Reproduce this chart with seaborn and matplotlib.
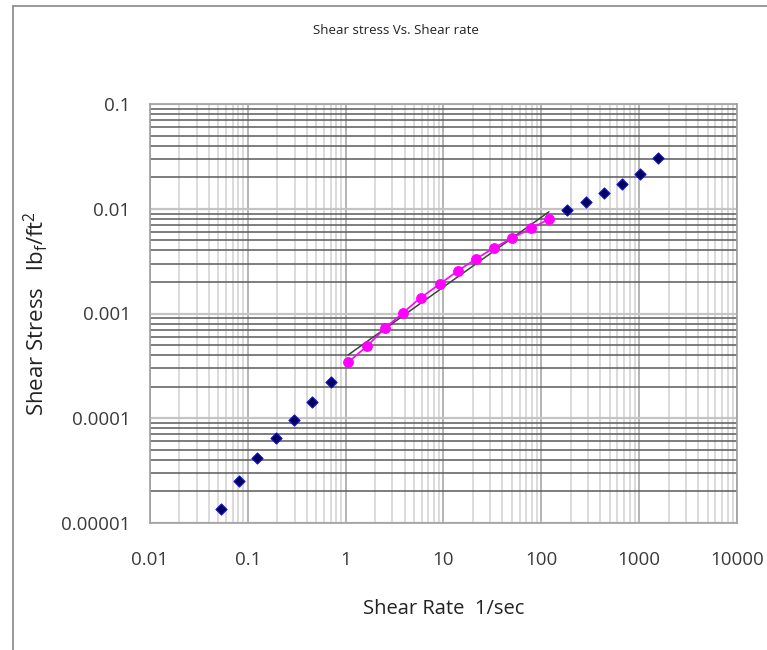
import numpy as np
import pandas as pd
import matplotlib
matplotlib.use("Agg")
import matplotlib.pyplot as plt
from matplotlib.ticker import LogLocator, FixedLocator, FixedFormatter, NullFormatter
from matplotlib.lines import Line2D
import seaborn as sns

# ---- data ----
blue_low_rate = [0.0528, 0.0813, 0.125, 0.193, 0.297, 0.457, 0.704]
blue_low_stress = [1.37e-5, 2.49e-5, 4.17e-5, 6.5e-5, 9.7e-5, 1.44e-4, 2.2e-4]
blue_high_rate = [184.5, 284, 437, 673, 1028, 1567]
blue_high_stress = [9.7e-3, 0.0116, 0.0141, 0.0172, 0.0216, 0.0303]

fit_rate = [1.06, 1.64, 2.52, 3.82, 5.88, 9.14, 13.96, 21.5, 32.8, 50.5, 78.5, 119.7]
fit_stress = [3.42e-4, 4.86e-4, 7.23e-4, 1.01e-3, 1.42e-3, 1.91e-3, 2.55e-3,
              3.32e-3, 4.23e-3, 5.27e-3, 6.49e-3, 7.96e-3]

trend_rate = [1.06, 119.7]
trend_stress = [4.02e-4, 9.35e-3]

x_ticks = [0.01, 0.1, 1, 10, 100, 1000, 10000]
x_tick_labels = ["0.01", "0.1", "1", "10", "100", "1000", "10000"]
y_ticks = [0.00001, 0.0001, 0.001, 0.01, 0.1]
y_tick_labels = ["0.00001", "0.0001", "0.001", "0.01", "0.1"]

title = "Shear stress Vs. Shear rate"
x_label = "Shear Rate  1/sec"
y_label = r"Shear Stress   lb$_\mathregular{f}$/ft$^\mathregular{2}$"

blue_df = pd.DataFrame({"rate": blue_low_rate + blue_high_rate,
                        "stress": blue_low_stress + blue_high_stress})
fit_df = pd.DataFrame({"rate": fit_rate, "stress": fit_stress})
trend_df = pd.DataFrame({"rate": trend_rate, "stress": trend_stress})

sns.set_theme(style="white")
plt.rcParams["font.family"] = ["Open Sans", "DejaVu Sans"]
plt.rcParams["mathtext.fontset"] = "custom"
plt.rcParams["mathtext.rm"] = "Open Sans"

fig = plt.figure(figsize=(7.67, 6.5), dpi=100)
ax = fig.add_axes([150 / 767, 127 / 650, 587 / 767, 419 / 650])
ax.set_xscale("log")
ax.set_yscale("log")
ax.set_xlim(0.01, 10000)
ax.set_ylim(0.00001, 0.1)

# grid
ax.xaxis.set_minor_locator(LogLocator(base=10, subs=np.arange(2, 10), numticks=20))
ax.yaxis.set_minor_locator(LogLocator(base=10, subs=np.arange(2, 10), numticks=20))
ax.xaxis.set_minor_formatter(NullFormatter())
ax.yaxis.set_minor_formatter(NullFormatter())
ax.grid(True, which="major", axis="x", color="#a8a8a8", linewidth=1.2)
ax.grid(True, which="minor", axis="x", color="#d4d4d4", linewidth=1.2)
ax.grid(True, which="major", axis="y", color="#c4c4c4", linewidth=1.6)
ax.grid(True, which="minor", axis="y", color="#5a5a5a", linewidth=1.1)
ax.set_axisbelow(True)

sns.lineplot(data=trend_df, x="rate", y="stress", ax=ax, color="#404040",
             linewidth=1.1, zorder=3)
sns.lineplot(data=fit_df, x="rate", y="stress", ax=ax, color="#ff00ff",
             linewidth=1.2, marker="o", markersize=7, markeredgecolor="#ff00ff",
             zorder=4)
sns.scatterplot(data=blue_df, x="rate", y="stress", ax=ax, marker="D", s=32,
                color="#000060", edgecolor="#1010d0", linewidth=0.8, zorder=5)

ax.xaxis.set_major_locator(FixedLocator(x_ticks))
ax.xaxis.set_major_formatter(FixedFormatter(x_tick_labels))
ax.yaxis.set_major_locator(FixedLocator(y_ticks))
ax.yaxis.set_major_formatter(FixedFormatter(y_tick_labels))
ax.tick_params(axis="both", which="both", length=0)
ax.tick_params(axis="x", labelsize=13.5, pad=20, colors="#3a3a3a")
ax.tick_params(axis="y", labelsize=13.5, pad=14, colors="#3a3a3a")

for sp in ax.spines.values():
    sp.set_color("#a0a0a0")
    sp.set_linewidth(1.2)

ax.set_xlabel(x_label, fontsize=14.5, labelpad=22, color="#222222")
ax.set_ylabel(y_label, fontsize=16, labelpad=8, color="#222222")

fig.text(396 / 767, 1 - 31 / 650, title, ha="center", va="center",
         fontsize=9.5, color="#222222")

# chart frame (left and top)
fig.add_artist(Line2D([13 / 767, 13 / 767], [0, 1 - 6 / 650],
                      transform=fig.transFigure, color="#888888", linewidth=1.2))
fig.add_artist(Line2D([13 / 767, 1], [1 - 6 / 650, 1 - 6 / 650],
                      transform=fig.transFigure, color="#888888", linewidth=1.2))

fig.savefig("out.png", dpi=100, facecolor="white")
